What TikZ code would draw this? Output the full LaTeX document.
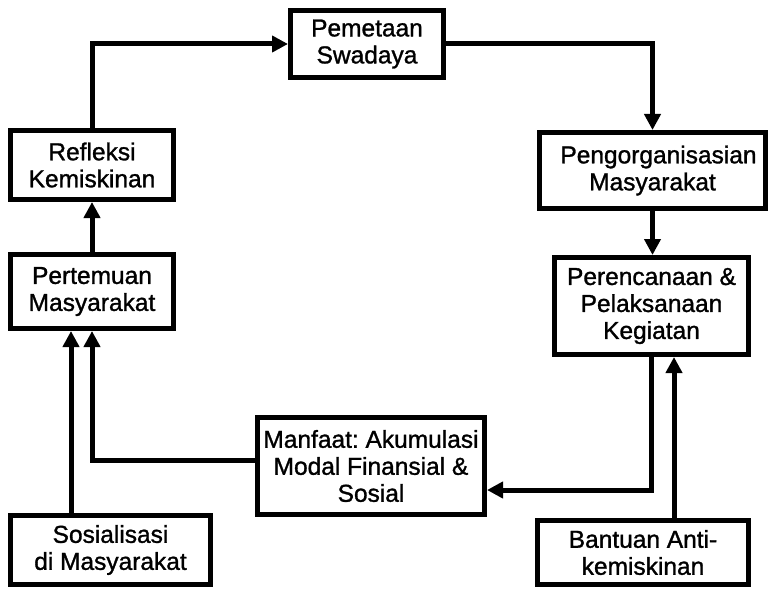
\documentclass[tikz,border=0pt]{standalone}
\usepackage{fontspec}
\setmainfont{Liberation Sans}
\newfontfamily\labelfont[FakeBold=1.2]{Liberation Sans}
\usetikzlibrary{arrows.meta}
\frenchspacing
\begin{document}
\begin{tikzpicture}[x=1pt,y=-1pt,
  box/.style={draw,line width=5pt,rectangle,align=center,inner sep=0pt,
    font=\labelfont\fontsize{24.5}{27}\selectfont},
  arr/.style={line width=5pt,-{Triangle[length=16pt,width=16pt]}}]
\useasboundingbox[fill=white] (0,0) rectangle (770,591);

% process boxes
\node[box,minimum width=153pt,minimum height=67pt] (pem) at (367,44) {Pemetaan\\Swadaya};
\node[box,minimum width=163pt,minimum height=69pt] (ref) at (92,165) {Refleksi\\Kemiskinan};
\node[box,minimum width=163pt,minimum height=74pt] (per) at (92,291.5) {Pertemuan\\Masyarakat};
\node[box,minimum width=226pt,minimum height=76pt] (org) at (652.5,170.5) {\hspace*{12pt}Pengorganisasian\\Masyarakat};
\node[box,minimum width=194pt,minimum height=97pt] (ren) at (651.5,306) {Perencanaan \&\\Pelaksanaan\\Kegiatan};
\node[box,minimum width=227pt,minimum height=97pt] (man) at (371,466) {Manfaat: Akumulasi\\Modal Finansial \&\\Sosial};
\node[box,minimum width=211pt,minimum height=64pt] (ban) at (643,552.5) {Bantuan Anti-\\kemiskinan};
\node[box,minimum width=200pt,minimum height=69pt] (sos) at (110.5,550) {Sosialisasi\\di Masyarakat};

% helper columns for the side-by-side arrows
\coordinate (cb) at (674,0);
\coordinate (cs) at (71,0);

% connectors
\draw[arr] (per.north) -- (ref.south);
\draw[arr] (ref.north) |- (pem.west);
\draw[arr] (pem.east) -| (org.north);
\draw[arr] (org.south) -- (org.south |- ren.north);
\draw[arr] (ren.south) |- ([yshift=-24pt]man.east);
\draw[arr] (cb |- ban.north) -- (cb |- ren.south);
\draw[arr] (cs |- sos.north) -- (cs |- per.south);
\draw[arr] ([yshift=6pt]man.west) -| (per.south);
\end{tikzpicture}
\end{document}
